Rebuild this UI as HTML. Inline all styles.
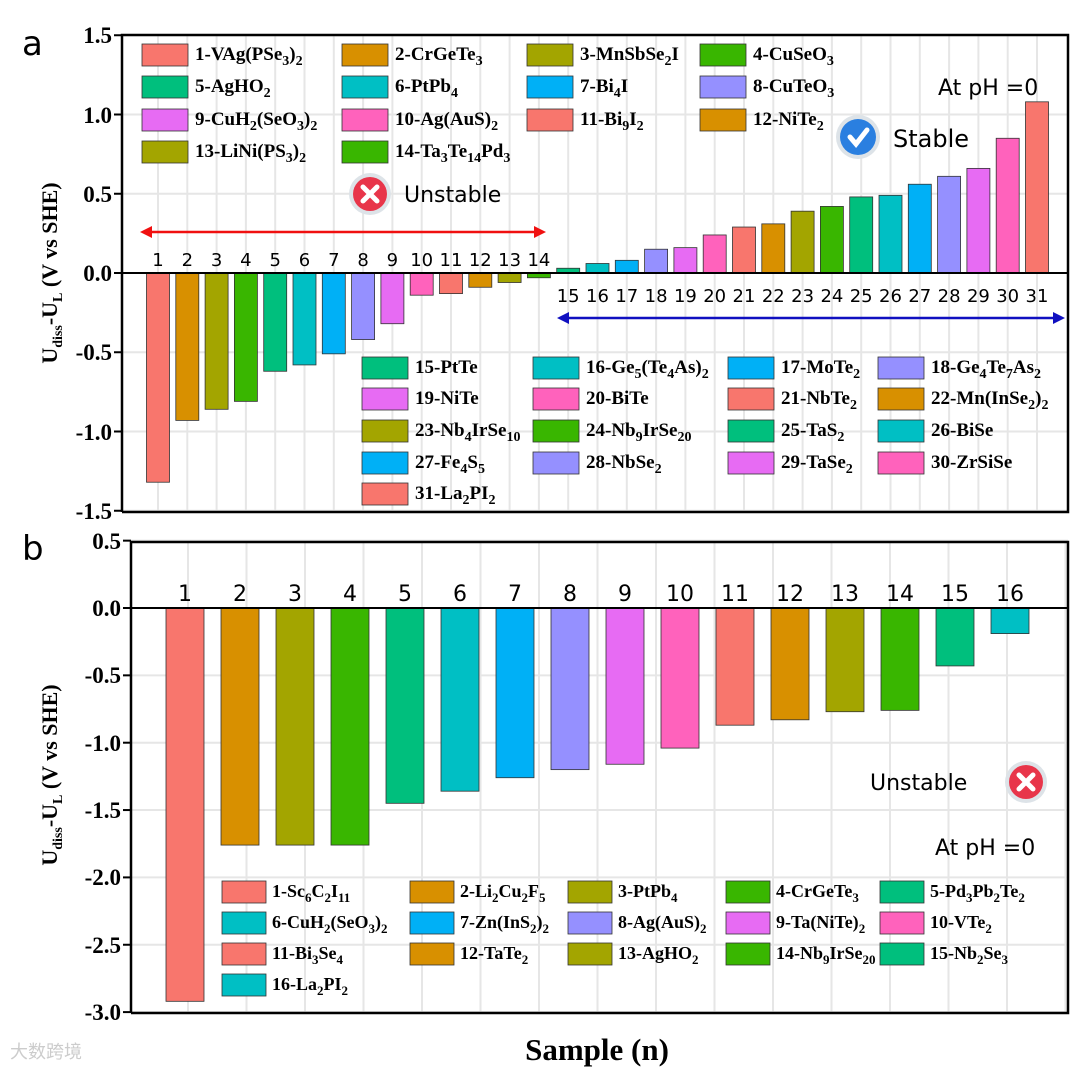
<!DOCTYPE html>
<html><head><meta charset="utf-8"><style>
html,body{margin:0;padding:0;background:#fff;}
#wrap{position:relative;width:1080px;height:1071px;}
svg{display:block;position:absolute;left:0;top:0;}
.tk{position:absolute;font-family:"Liberation Serif","Times New Roman",serif;font-weight:bold;font-size:23px;line-height:1;text-align:right;width:80px;color:#000;}
.yt{position:absolute;font-family:"Liberation Serif","Times New Roman",serif;font-weight:bold;font-size:22px;line-height:1;white-space:nowrap;transform:translate(-50%,-50%) rotate(-90deg);color:#000;}
.yt sub{font-size:14px;vertical-align:-5px;line-height:0;}
</style></head><body>
<div id="wrap">
<svg id="chart" width="1080" height="1071" xmlns="http://www.w3.org/2000/svg">
<g id="ga"></g>
<g id="gb"></g>
</svg>
<div class="yt" style="left:50px;top:273px">U<sub>diss</sub>-U<sub>L</sub> (V vs SHE)</div>
<div class="yt" style="left:50px;top:775px">U<sub>diss</sub>-U<sub>L</sub> (V vs SHE)</div>
</div>
<script>
const colors=["#F8766D","#D89000","#A3A500","#39B600","#00BF7D","#00BFC4","#00B0F6","#9590FF","#E76BF3","#FF62BC"];
const valuesA=[-1.32,-0.93,-0.86,-0.81,-0.62,-0.58,-0.51,-0.42,-0.32,-0.14,-0.13,-0.09,-0.06,-0.03,0.03,0.06,0.08,0.15,0.16,0.24,0.29,0.31,0.39,0.42,0.48,0.49,0.56,0.61,0.66,0.85,1.08];
const namesA=["VAg(PSe_3)_2","CrGeTe_3","MnSbSe_2I","CuSeO_3","AgHO_2","PtPb_4","Bi_4I","CuTeO_3","CuH_2(SeO_3)_2","Ag(AuS)_2","Bi_9I_2","NiTe_2","LiNi(PS_3)_2","Ta_3Te_1_4Pd_3","PtTe","Ge_5(Te_4As)_2","MoTe_2","Ge_4Te_7As_2","NiTe","BiTe","NbTe_2","Mn(InSe_2)_2","Nb_4IrSe_1_0","Nb_9IrSe_2_0","TaS_2","BiSe","Fe_4S_5","NbSe_2","TaSe_2","ZrSiSe","La_2PI_2"];
const ticksA=[1.5,1.0,0.5,0.0,-0.5,-1.0,-1.5];
const valuesB=[-2.92,-1.76,-1.76,-1.76,-1.45,-1.36,-1.26,-1.20,-1.16,-1.04,-0.87,-0.83,-0.77,-0.76,-0.43,-0.19];
const namesB=["Sc_6C_2I_1_1","Li_2Cu_2F_5","PtPb_4","CrGeTe_3","Pd_3Pb_2Te_2","CuH_2(SeO_3)_2","Zn(InS_2)_2","Ag(AuS)_2","Ta(NiTe)_2","VTe_2","Bi_3Se_4","TaTe_2","AgHO_2","Nb_9IrSe_2_0","Nb_2Se_3","La_2PI_2"];
const ticksB=[0.5,0.0,-0.5,-1.0,-1.5,-2.0,-2.5,-3.0];

const NS="http://www.w3.org/2000/svg";
const wrap=document.getElementById("wrap");
function mk(p,tag,at){const e=document.createElementNS(NS,tag);for(const k in at)e.setAttribute(k,at[k]);p.appendChild(e);return e;}
function richText(p,x,y,str,size){
  const t=mk(p,"text",{x:x,y:y,style:`font-family:'Liberation Serif',serif;font-weight:bold;font-size:${size}px`});
  let i=0;let buf="";
  const flush=()=>{if(buf){const s=mk(t,"tspan",{});s.textContent=buf;buf="";}};
  while(i<str.length){
    if(str[i]==="_"){flush();let sub="";while(str[i]==="_"){sub+=str[i+1];i+=2;}
      const s=mk(t,"tspan",{dy:5,style:`font-size:${Math.round(size*0.72)}px`});s.textContent=sub;
      const r=mk(t,"tspan",{dy:-5});r.textContent="\u200B";}
    else{buf+=str[i];i++;}
  }
  flush();return t;
}
function xIcon(p,cx,cy){
  const g=mk(p,"g",{});
  
  
  mk(g,"circle",{cx:cx,cy:cy,r:21,fill:"#dde3e8"});
  mk(g,"circle",{cx:cx,cy:cy,r:17,fill:"#e8354a"});
  mk(g,"path",{d:`M${cx-7} ${cy-7}L${cx+7} ${cy+7}M${cx+7} ${cy-7}L${cx-7} ${cy+7}`,stroke:"#fff","stroke-width":5,"stroke-linecap":"round"});
}
function checkIcon(p,cx,cy){
  const g=mk(p,"g",{});
  
  
  mk(g,"circle",{cx:cx,cy:cy,r:22,fill:"#dde3e8"});
  mk(g,"circle",{cx:cx,cy:cy,r:18,fill:"#2a7fe0"});
  mk(g,"path",{d:`M${cx-8} ${cy}L${cx-2} ${cy+7}L${cx+9} ${cy-7}`,stroke:"#fff","stroke-width":5,fill:"none","stroke-linecap":"round"});
}
function sans(p,x,y,txt,size,name){
  const t=mk(p,"text",{x:x,y:y,"font-family":"DejaVu Sans,Liberation Sans,sans-serif","font-size":size});
  t.textContent=txt;
  
  
  return t;
}
function tickLabel(right,cy,txt,name){
  const d=document.createElement("div");
  d.className="tk";
  d.style.left=(right-80)+"px";
  d.style.top=(cy-11)+"px";
  d.textContent=txt;
  
  
  wrap.appendChild(d);
}

/* Panel A */
(function(){
  const g=document.getElementById("ga");
  const L=122,R=1068,T=35,B=512;
  const y=v=>273-v*158.5;
  const x=i=>158+i*29.3;
  const gr=mk(g,"g",{stroke:"#e6e6e6","stroke-width":2});
  ticksA.forEach(v=>mk(gr,"line",{x1:L,x2:R,y1:y(v),y2:y(v)}));
  valuesA.forEach((v,i)=>mk(gr,"line",{x1:x(i),x2:x(i),y1:T,y2:B}));
  valuesA.forEach((v,i)=>{
    const r=mk(g,"rect",{x:x(i)-11.5,y:Math.min(y(v),y(0)),width:23,height:Math.abs(y(v)-y(0)),fill:colors[i%10],stroke:"#333","stroke-width":0.8});
    
    
    const t=sans(g,x(i),v<0?y(0)-7:y(0)+29,String(i+1),"18px","bar-label-a-"+(i+1));
    t.setAttribute("text-anchor","middle");
  });
  mk(g,"line",{x1:L,x2:R,y1:y(0),y2:y(0),stroke:"#000","stroke-width":2});
  mk(g,"path",{d:`M${L} ${B}L${L} ${T}L${R} ${T}L${R} ${B}L${L} ${B}`,fill:"none",stroke:"#000","stroke-width":2.5});
  ticksA.forEach(v=>{
    mk(g,"line",{x1:L-8,x2:L,y1:y(v),y2:y(v),stroke:"#000","stroke-width":2});
    tickLabel(L-10,y(v),v.toFixed(1),'y-tick-a');
  });
  sans(g,22,55,"a","34px","panel-label-a");
  const colsTop=[142,342,527,700],rowsTop=[55,87,120,152];
  const colsBot=[362,533,728,878],rowsBot=[368,399,431,463,494];
  namesA.forEach((n,i)=>{
    let cx,cy;
    if(i<14){cx=colsTop[i%4];cy=rowsTop[Math.floor(i/4)];}
    else{const j=i-14;cx=colsBot[j%4];cy=rowsBot[Math.floor(j/4)];}
    const lg=mk(g,"g",{});
    
    
    mk(lg,"rect",{x:cx,y:cy-11,width:46,height:22,fill:colors[i%10],stroke:"#333","stroke-width":0.8});
    richText(lg,cx+53,cy+5,(i+1)+"-"+n,19);
  });
  sans(g,938,95,"At pH =0","22px","ph-label-a");
  checkIcon(g,858,137);
  sans(g,893,147,"Stable","24px","stable-label");
  xIcon(g,370,194);
  sans(g,404,202,"Unstable","22px","unstable-label-a");
  mk(g,"line",{x1:148,x2:538,y1:232,y2:232,stroke:"#f01010","stroke-width":2.5});
  mk(g,"path",{d:"M140 232L152 226L152 238Z M546 232L534 226L534 238Z",fill:"#f01010"});
  mk(g,"line",{x1:565,x2:1057,y1:318,y2:318,stroke:"#1010c0","stroke-width":2.5});
  mk(g,"path",{d:"M557 318L569 312L569 324Z M1065 318L1053 312L1053 324Z",fill:"#1010c0"});
})();

/* Panel B */
(function(){
  const g=document.getElementById("gb");
  const L=131,R=1068,T=542,B=1013;
  const y=v=>608-v*134.7;
  const x=i=>185+i*55;
  const gr=mk(g,"g",{stroke:"#e6e6e6","stroke-width":2});
  ticksB.forEach(v=>mk(gr,"line",{x1:L,x2:R,y1:y(v),y2:y(v)}));
  for(let k=0;k<16;k++)mk(gr,"line",{x1:188+k*58.5,x2:188+k*58.5,y1:T,y2:B});
  valuesB.forEach((v,i)=>{
    const r=mk(g,"rect",{x:x(i)-19,y:y(0),width:38,height:Math.abs(y(v)-y(0)),fill:colors[i%10],stroke:"#333","stroke-width":0.8});
    
    
    const t=sans(g,x(i),y(0)-7,String(i+1),"22px","bar-label-b-"+(i+1));
    t.setAttribute("text-anchor","middle");
  });
  mk(g,"line",{x1:L,x2:R,y1:y(0),y2:y(0),stroke:"#000","stroke-width":2});
  mk(g,"path",{d:`M${L} ${B}L${L} ${T}L${R} ${T}L${R} ${B}L${L} ${B}`,fill:"none",stroke:"#000","stroke-width":2.5});
  ticksB.forEach(v=>{
    mk(g,"line",{x1:L-8,x2:L,y1:y(v),y2:y(v),stroke:"#000","stroke-width":2});
    tickLabel(L-10,y(v),v.toFixed(1),'y-tick-b');
  });
  sans(g,22,560,"b","34px","panel-label-b");
  const cols=[222,410,568,726,880],rows=[892,923,954,985];
  namesB.forEach((n,i)=>{
    const cx=cols[i%5],cy=rows[Math.floor(i/5)];
    const lg=mk(g,"g",{});
    
    
    mk(lg,"rect",{x:cx,y:cy-11,width:44,height:22,fill:colors[i%10],stroke:"#333","stroke-width":0.8});
    richText(lg,cx+50,cy+5,(i+1)+"-"+n,18);
  });
  sans(g,870,790,"Unstable","22px","unstable-label-b");
  xIcon(g,1026,782);
  sans(g,935,855,"At pH =0","22px","ph-label-b");
  const xt=mk(g,"text",{x:597,y:1060,"text-anchor":"middle",style:"font-family:'Liberation Serif',serif;font-weight:bold;font-size:31px"});
  xt.textContent="Sample (n)";
  
  
  const wm=mk(g,"text",{x:10,y:1058,"font-family":"Noto Sans CJK SC,sans-serif","font-size":"18px",fill:"#ccc"});
  wm.textContent="大数跨境";
  
  
})();
</script>
</body></html>
